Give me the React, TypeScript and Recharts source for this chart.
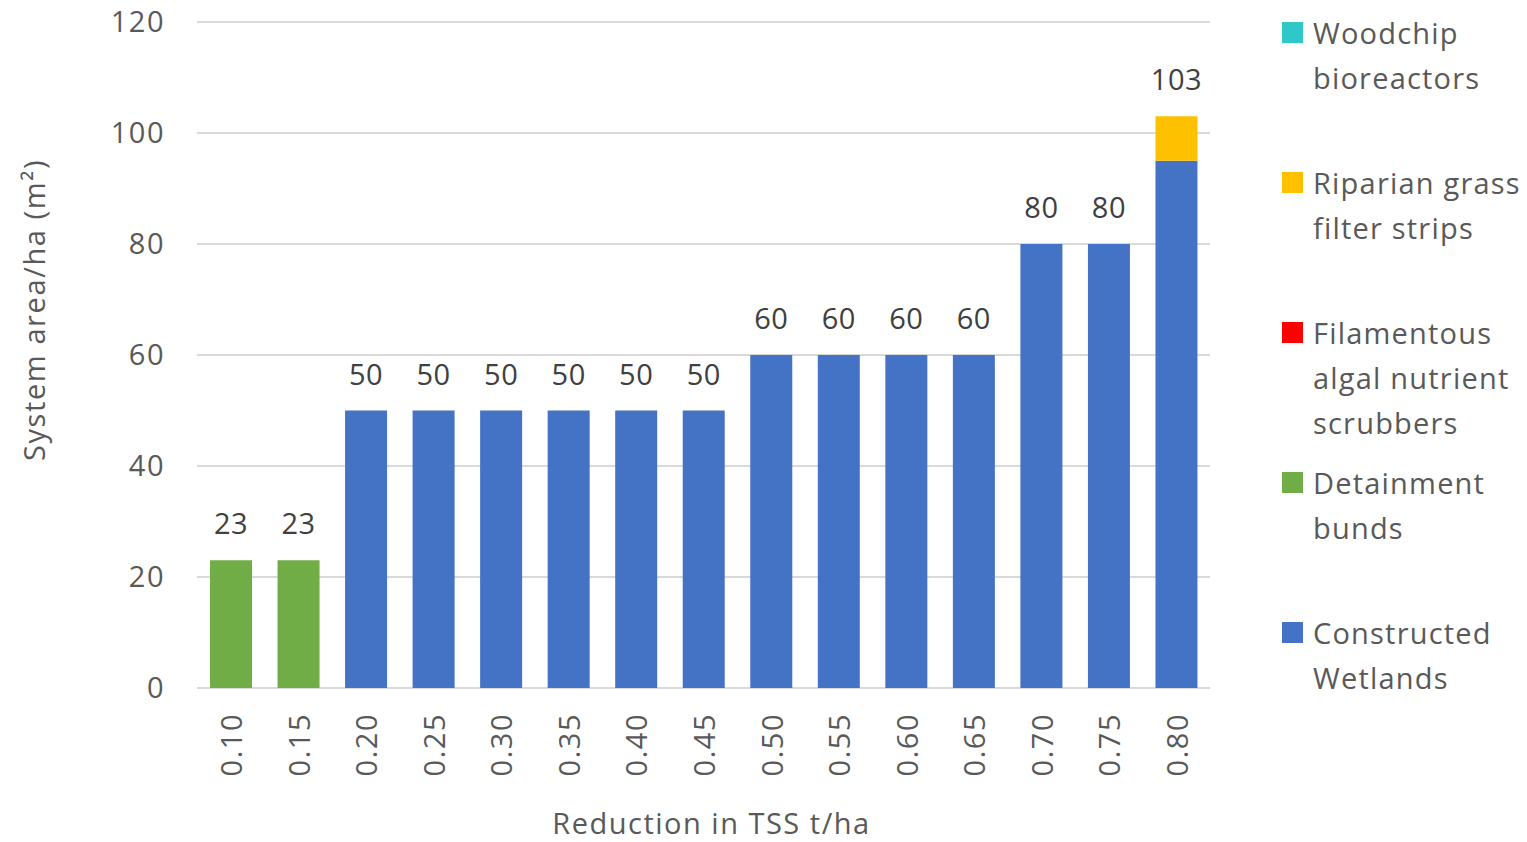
import React from "react";
import {
  BarChart,
  Bar,
  XAxis,
  YAxis,
  CartesianGrid,
  LabelList,
} from "recharts";

const categories = ["0.10", "0.15", "0.20", "0.25", "0.30", "0.35", "0.40", "0.45", "0.50", "0.55", "0.60", "0.65", "0.70", "0.75", "0.80"];
const constructedWetlands = [0, 0, 50, 50, 50, 50, 50, 50, 60, 60, 60, 60, 80, 80, 95];
const detainmentBunds = [23, 23, 0, 0, 0, 0, 0, 0, 0, 0, 0, 0, 0, 0, 0];
const algalScrubbers = [0, 0, 0, 0, 0, 0, 0, 0, 0, 0, 0, 0, 0, 0, 0];
const riparianStrips = [0, 0, 0, 0, 0, 0, 0, 0, 0, 0, 0, 0, 0, 0, 8];
const woodchipBioreactors = [0, 0, 0, 0, 0, 0, 0, 0, 0, 0, 0, 0, 0, 0, 0];
const yTicks = [0, 20, 40, 60, 80, 100, 120];

// legend order as in the original (top to bottom)
const SERIES = [
  { key: "woodchip", name: "Woodchip\nbioreactors", color: "#2ec8c8" },
  { key: "riparian", name: "Riparian grass\nfilter strips", color: "#ffc000" },
  { key: "algal", name: "Filamentous\nalgal nutrient\nscrubbers", color: "#ff0000" },
  { key: "detainment", name: "Detainment\nbunds", color: "#70ad47" },
  { key: "wetlands", name: "Constructed\nWetlands", color: "#4472c4" },
];
const STACK = SERIES.slice().reverse();

const data = categories.map((x, i) => ({
  x,
  wetlands: constructedWetlands[i],
  detainment: detainmentBunds[i],
  algal: algalScrubbers[i],
  riparian: riparianStrips[i],
  woodchip: woodchipBioreactors[i],
}));

// the series whose segment sits on top of each column carries the total label
const topKey = data.map((d: any) => {
  let k = STACK[0].key;
  STACK.forEach((s) => {
    if (d[s.key] > 0) k = s.key;
  });
  return k;
});
const totals = data.map((d: any) => STACK.reduce((sum, s) => sum + d[s.key], 0));

const boundaryTicks = categories.map((_, i) => i).concat(categories.length);

const FONT = "'Open Sans', sans-serif";
const TEXT = "#595959";

const RotatedTick = (props: any) => {
  const { x, y, payload } = props;
  return (
    <g transform={`translate(${x},${y + 17})`}>
      <text
        transform="rotate(-90)"
        textAnchor="end"
        dominantBaseline="central"
        fill={TEXT}
        fontSize={29}
        letterSpacing={1.5}
        fontFamily={FONT}
      >
        {payload.value}
      </text>
    </g>
  );
};

const YTitle = (props: any) => {
  const { viewBox } = props;
  const cx = 33;
  const cy = viewBox.y + viewBox.height / 2 - 45;
  return (
    <text
      transform={`translate(${cx},${cy}) rotate(-90)`}
      textAnchor="middle"
      dominantBaseline="central"
      fill={TEXT}
      fontSize={29}
      letterSpacing={1.6}
      fontFamily={FONT}
    >
      System area/ha (m²)
    </text>
  );
};

const makeTotalLabel = (key: string) => (props: any) => {
  const { viewBox, value } = props;
  const i = categories.indexOf(value);
  if (i < 0 || topKey[i] !== key || !viewBox) return null;
  return (
    <text
      x={viewBox.x + viewBox.width / 2}
      y={viewBox.y - 26}
      textAnchor="middle"
      fill="#404040"
      fontSize={29}
      letterSpacing={0.5}
      fontFamily={FONT}
    >
      {totals[i]}
    </text>
  );
};

const App: React.FC = () => {
  return (
    <div
      style={{
        position: "absolute",
        top: 0,
        left: 0,
        width: 1527,
        height: 842,
        background: "#fff",
        fontFamily: FONT,
      }}
    >
      <BarChart
        width={1527}
        height={842}
        data={data}
        margin={{ top: 22, right: 317, left: 0, bottom: 0 }}
        barSize={42}
      >
        <CartesianGrid vertical={false} stroke="#d9d9d9" strokeWidth={2} xAxisId="cat" />
        <XAxis
          xAxisId="grid"
          type="number"
          domain={[0, categories.length]}
          ticks={boundaryTicks}
          tick={() => <g />}
          height={0}
          tickSize={12}
          stroke="#d9d9d9"
          strokeWidth={2}
        />
        <XAxis
          xAxisId="cat"
          dataKey="x"
          height={154}
          axisLine={false}
          tickLine={false}
          tick={<RotatedTick />}
          interval={0}
          label={{
            value: "Reduction in TSS t/ha",
            position: "insideBottom",
            offset: 8,
            dx: 8,
            fill: TEXT,
            fontSize: 29,
            letterSpacing: 1.5,
            fontFamily: FONT,
          }}
        />
        <YAxis
          width={197}
          domain={[0, 120]}
          ticks={yTicks}
          axisLine={false}
          tickLine={false}
          tickSize={0}
          tickMargin={32}
          tick={{ fill: TEXT, fontSize: 29, fontFamily: FONT, letterSpacing: 1.5 }}
          label={<YTitle />}
        />
        {STACK.map((s) => (
          <Bar
            key={s.key}
            xAxisId="cat"
            dataKey={s.key}
            stackId="a"
            fill={s.color}
            isAnimationActive={false}
          >
            <LabelList dataKey="x" content={makeTotalLabel(s.key)} />
          </Bar>
        ))}
      </BarChart>

      <div style={{ position: "absolute", left: 1282, top: 10 }}>
        {SERIES.map((s, i) => (
          <div
            key={s.key}
            style={{
              position: "absolute",
              top: i * 150,
              left: 0,
              width: 245,
              display: "flex",
              alignItems: "flex-start",
            }}
          >
            <div
              style={{
                width: 21,
                height: 21,
                background: s.color,
                marginTop: 12,
                marginRight: 10,
                flexShrink: 0,
              }}
            />
            <div
              style={{
                whiteSpace: "pre",
                fontSize: 29,
                lineHeight: "45px",
                letterSpacing: 1.2,
                color: TEXT,
                fontFamily: FONT,
              }}
            >
              {s.name}
            </div>
          </div>
        ))}
      </div>
    </div>
  );
};

export default App;
